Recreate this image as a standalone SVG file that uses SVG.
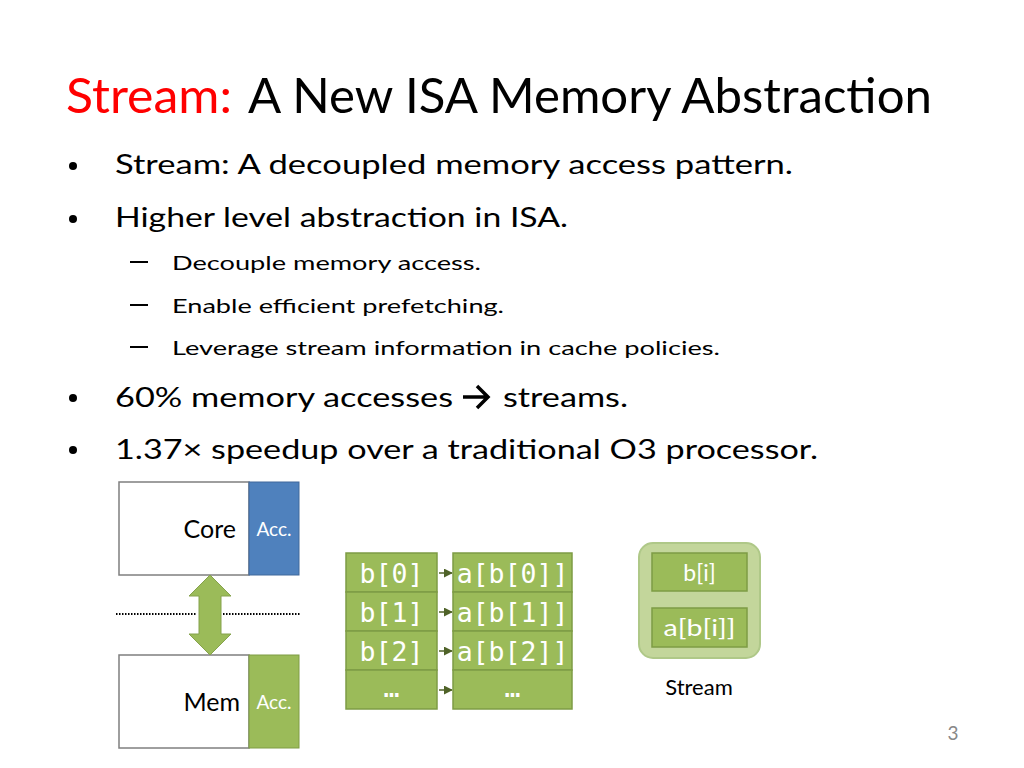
<svg xmlns="http://www.w3.org/2000/svg" width="1024" height="768" viewBox="0 0 1024 768">
<style>
.t{font-family:Lato,"Open Sans","Liberation Sans",sans-serif;fill:#000}
.b{font-size:26px}
.s{font-size:20px}
.m{font-family:"DejaVu Sans Mono","Liberation Mono",monospace;font-size:26.5px;fill:#fff}
.w{font-family:Lato,"Open Sans","Liberation Sans",sans-serif;fill:#fff}
.cell{fill:#9BBB59;stroke:#7E9C45;stroke-width:1.5}
.box{fill:#fff;stroke:#7F7F7F;stroke-width:1.5}
.conn{stroke:#4F6228;stroke-width:1.5;fill:none}
</style>
<defs>
<marker id="ah" viewBox="0 0 10 10" refX="9" refY="5" markerWidth="6" markerHeight="6" orient="auto"><path d="M0,0L10,5L0,10z" fill="#4F6228"/></marker>
</defs>
<rect width="1024" height="768" fill="#fff"/>
<g id="title">
<text class="t" x="66" y="113" font-size="48" style="fill:#F00" textLength="166" lengthAdjust="spacingAndGlyphs">Stream:</text>
<text class="t" x="248" y="113" font-size="48" textLength="684" lengthAdjust="spacingAndGlyphs">A New ISA Memory Abstraction</text>
</g>
<g id="bullets">
<circle cx="73" cy="166" r="4"/>
<text class="t b" x="115" y="174" textLength="678" lengthAdjust="spacingAndGlyphs">Stream: A decoupled memory access pattern.</text>
<circle cx="73" cy="219" r="4"/>
<text class="t b" x="115" y="227" textLength="453" lengthAdjust="spacingAndGlyphs">Higher level abstraction in ISA.</text>
<rect x="130" y="261" width="18" height="2"/>
<text class="t s" x="172" y="270" textLength="309" lengthAdjust="spacingAndGlyphs">Decouple memory access.</text>
<rect x="130" y="304" width="18" height="2"/>
<text class="t s" x="172" y="313" textLength="332" lengthAdjust="spacingAndGlyphs">Enable efficient prefetching.</text>
<rect x="130" y="346" width="18" height="2"/>
<text class="t s" x="172" y="355" textLength="548" lengthAdjust="spacingAndGlyphs">Leverage stream information in cache policies.</text>
<circle cx="73" cy="398" r="4"/>
<text class="t b" x="115" y="407" textLength="338" lengthAdjust="spacingAndGlyphs">60% memory accesses</text>
<path d="M463,397H487M477,386L488,397L477,408" stroke="#000" stroke-width="3.5" fill="none"/>
<text class="t b" x="503" y="407" textLength="125" lengthAdjust="spacingAndGlyphs">streams.</text>
<circle cx="73" cy="450" r="4"/>
<text class="t b" x="115" y="459" textLength="703" lengthAdjust="spacingAndGlyphs">1.37× speedup over a traditional O3 processor.</text>
</g>
<g id="core">
<rect class="box" x="119" y="482" width="130" height="93"/>
<rect x="249" y="482" width="50" height="93" fill="#4F81BD" stroke="#41699B" stroke-width="1"/>
<text class="t" x="236" y="538" font-size="25" text-anchor="end">Core</text>
<text class="w" x="274" y="536" font-size="19" text-anchor="middle">Acc.</text>
</g>
<g id="mem">
<rect class="box" x="119" y="655" width="130" height="93"/>
<rect x="249" y="655" width="50" height="93" fill="#9BBB59" stroke="#7E9C45" stroke-width="1"/>
<text class="t" x="240" y="711" font-size="25" text-anchor="end">Mem</text>
<text class="w" x="274" y="709" font-size="19" text-anchor="middle">Acc.</text>
</g>
<g id="connectors">
<path d="M210,575L231,596H221V634H231L210,655L189,634H199V596H189Z" fill="#9BBB59" stroke="#85A24C" stroke-width="1"/>
<line x1="116" y1="614" x2="197" y2="614" stroke="#000" stroke-width="2" stroke-dasharray="1.5,1.5"/>
<line x1="223" y1="614" x2="300" y2="614" stroke="#000" stroke-width="2" stroke-dasharray="1.5,1.5"/>
<line class="conn" x1="439" y1="573" x2="452" y2="573" marker-end="url(#ah)"/>
<line class="conn" x1="439" y1="612" x2="452" y2="612" marker-end="url(#ah)"/>
<line class="conn" x1="439" y1="651" x2="452" y2="651" marker-end="url(#ah)"/>
<line class="conn" x1="439" y1="690" x2="452" y2="690" marker-end="url(#ah)"/>
<line class="conn" x1="700" y1="591" x2="700" y2="607" marker-end="url(#ah)"/>
</g>
<g id="array-b">
<rect class="cell" x="346" y="553" width="91" height="39"/>
<rect class="cell" x="346" y="592" width="91" height="39"/>
<rect class="cell" x="346" y="631" width="91" height="39"/>
<rect class="cell" x="346" y="670" width="91" height="39"/>
<text class="m" x="391.5" y="583" text-anchor="middle">b[0]</text>
<text class="m" x="391.5" y="622" text-anchor="middle">b[1]</text>
<text class="m" x="391.5" y="661" text-anchor="middle">b[2]</text>
<text class="m" x="391.5" y="697" text-anchor="middle" font-size="16">…</text>
</g>
<g id="array-a">
<rect class="cell" x="453" y="553" width="119" height="39"/>
<rect class="cell" x="453" y="592" width="119" height="39"/>
<rect class="cell" x="453" y="631" width="119" height="39"/>
<rect class="cell" x="453" y="670" width="119" height="39"/>
<text class="m" x="512.5" y="583" text-anchor="middle">a[b[0]]</text>
<text class="m" x="512.5" y="622" text-anchor="middle">a[b[1]]</text>
<text class="m" x="512.5" y="661" text-anchor="middle">a[b[2]]</text>
<text class="m" x="512.5" y="697" text-anchor="middle" font-size="16">…</text>
</g>
<g id="stream">
<rect x="639" y="543" width="121" height="115" rx="14" fill="#C3D69B" stroke="#AFC888" stroke-width="2"/>
<rect class="cell" x="652" y="553" width="95" height="38"/>
<rect class="cell" x="652" y="608" width="95" height="39"/>
<text class="w" x="699.5" y="581" font-size="23" text-anchor="middle">b[i]</text>
<text class="w" x="699.5" y="636" font-size="23" text-anchor="middle" textLength="72" lengthAdjust="spacingAndGlyphs">a[b[i]]</text>
<text class="t" x="699" y="695" font-size="22" text-anchor="middle">Stream</text>
</g>
<text x="953" y="740" font-family="Lato,'Liberation Sans',sans-serif" font-size="19" fill="#888" text-anchor="middle">3</text>
</svg>
